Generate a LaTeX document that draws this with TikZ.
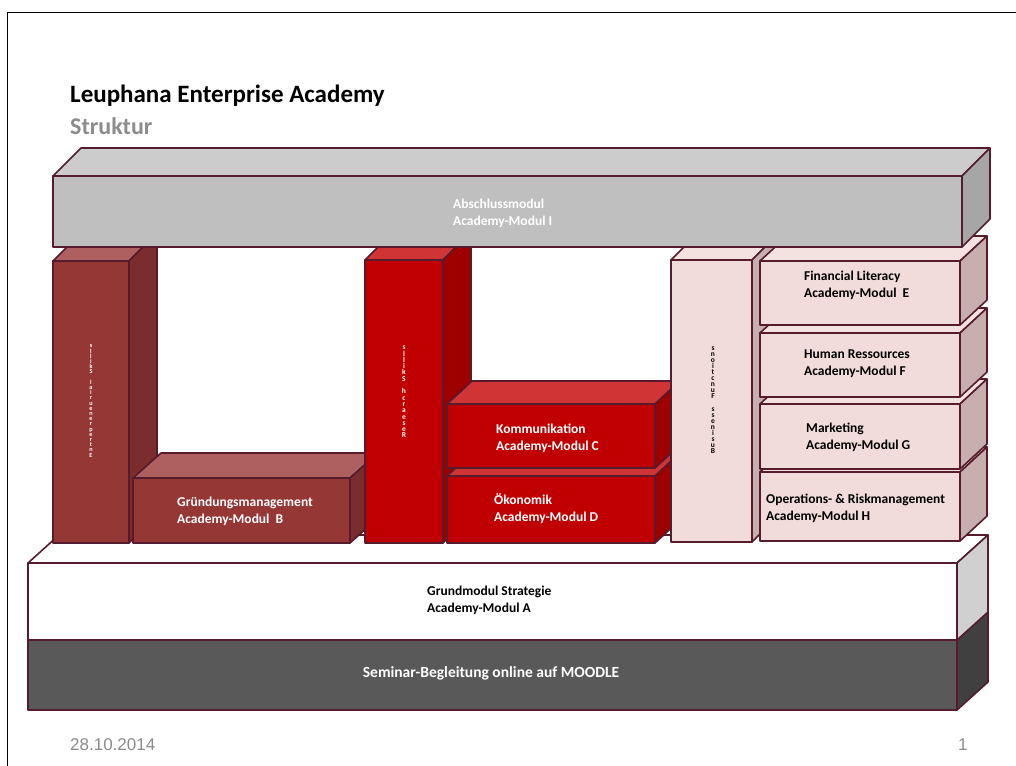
\documentclass[tikz,border=0pt]{standalone}
\usepackage{fontspec}
\setmainfont{Carlito}
\newfontfamily\arialfont{Liberation Sans}
\definecolor{edgec}{HTML}{561C2E}
\definecolor{gf}{HTML}{BFBFBF}
\definecolor{gt}{HTML}{CCCCCC}
\definecolor{gs}{HTML}{A6A6A6}
\definecolor{cAf}{HTML}{953735}
\definecolor{cAt}{HTML}{AE5F5F}
\definecolor{cAs}{HTML}{7B2C2C}
\definecolor{cBf}{HTML}{C00000}
\definecolor{cBt}{HTML}{D03434}
\definecolor{cBs}{HTML}{9E0000}
\definecolor{pf}{HTML}{F2DCDB}
\definecolor{pt}{HTML}{F4E2E1}
\definecolor{ps}{HTML}{C6AFAE}
\definecolor{ws}{HTML}{D0D0D0}
\definecolor{sf}{HTML}{595959}
\definecolor{ss}{HTML}{404040}
\definecolor{txtgray}{HTML}{8C8C8C}
\newcommand\cube[9]{%
  \filldraw[edge, fill=#8] (#1,#2) -- (#1+#5,#2-#6) -- (#3+#5,#2-#6) -- (#3,#2) -- cycle;
  \filldraw[edge, fill=#9] (#3,#2) -- (#3+#5,#2-#6) -- (#3+#5,#4-#6) -- (#3,#4) -- cycle;
  \filldraw[edge, fill=#7] (#1,#2) rectangle (#3,#4);
}
\newcommand\vstack[2]{\vbox{\baselineskip=#1pt\lineskiplimit=-20pt\lineskip=0pt\relax
  \halign{\hfil##\hfil\cr#2\crcr}}}
\begin{document}
\begin{tikzpicture}[x=1pt,y=-1pt,
  edge/.style={draw=edgec, line width=1.6pt, line join=round},
  lbl/.style={font=\fontsize{13.5}{17}\selectfont\bfseries, align=left, anchor=west, inner sep=0pt, text=white},
  dlbl/.style={lbl, text=black},
  stack/.style={font=\fontsize{7.5}{8}\selectfont\bfseries, inner sep=0pt, text=white}
]
\useasboundingbox (0,0) rectangle (1016,765);
\fill[white] (0,0) rectangle (1016,765);
\draw[black, line width=1pt] (7,770) -- (7,13) -- (1020,13);

\node[font=\fontsize{25}{30}\selectfont\bfseries, anchor=west, inner sep=0pt] (title) at (70,96) {Leuphana Enterprise Academy};
\node[font=\fontsize{24}{28}\selectfont\bfseries, text=txtgray, anchor=west, inner sep=0pt] (sub) at (70,126) {Struktur};

% base
\cube{28}{640}{957}{710}{31}{28}{sf}{sf}{ss}
\cube{28}{563}{957}{640}{31}{28}{white}{white}{ws}

% left column group
\cube{53}{261}{129}{543}{28}{28}{cAf}{cAt}{cAs}
\cube{133}{478}{350}{543}{28}{25}{cAf}{cAt}{cAs}
% middle group
\cube{365}{260}{443}{543}{28}{28}{cBf}{cBt}{cBs}
\cube{447}{476}{655}{543}{25}{23}{cBf}{cBt}{cBs}
\cube{447}{404}{655}{468}{25}{23}{cBf}{cBt}{cBs}
% right group
\cube{671}{260}{752}{542}{28}{28}{pf}{pt}{ps}
\cube{760}{472}{960}{541}{27}{25}{pf}{pt}{ps}
\cube{760}{404}{960}{469}{27}{25}{pf}{pt}{ps}
\cube{760}{333}{960}{397}{27}{25}{pf}{pt}{ps}
\cube{760}{261}{960}{325}{27}{25}{pf}{pt}{ps}
% top
\cube{53}{176}{962}{247}{28}{28}{gf}{gt}{gs}

% labels
\node[lbl] (tI) at (453,213) {Abschlussmodul\\Academy-Modul I};
\node[lbl] (tB) at (177,511) {Gründungsmanagement\\Academy-Modul\ \ B};
\node[lbl] (tC) at (496,438) {Kommunikation\\Academy-Modul C};
\node[lbl] (tD) at (494,509) {Ökonomik\\Academy-Modul D};
\node[dlbl] (tE) at (804,285) {Financial Literacy\\Academy-Modul\ \ E};
\node[dlbl] (tF) at (804,364) {Human Ressources\\Academy-Modul F};
\node[dlbl] (tG) at (806,437) {Marketing\\Academy-Modul G};
\node[dlbl] (tH) at (766,508) {Operations- \& Riskmanagement\\Academy-Modul H};
\node[dlbl] (tA) at (427,600) {Grundmodul Strategie\\Academy-Modul A};
\node[lbl, anchor=center, font=\fontsize{15.5}{18}\selectfont\bfseries] (tS) at (491,673) {Seminar-Begleitung online auf MOODLE};

% stacked vertical texts
\node[stack, font=\fontsize{6.2}{7}\selectfont\bfseries] (v1) at (91,401) {\vstack{5.2}{s\cr l\cr l\cr i\cr k\cr S\cr \cr l\cr a\cr i\cr r\cr u\cr e\cr n\cr e\cr r\cr p\cr e\cr r\cr t\cr n\cr E}};
\node[stack] (v2) at (404,392) {\vstack{6.3}{s\cr l\cr l\cr i\cr k\cr S\cr \cr h\cr c\cr r\cr a\cr e\cr s\cr e\cr R}};
\node[stack, text=black] (v3) at (713,400) {\vstack{6.1}{s\cr n\cr o\cr i\cr t\cr c\cr n\cr u\cr F\cr \cr s\cr s\cr e\cr n\cr i\cr s\cr u\cr B}};

% footer
\node[font=\arialfont\fontsize{17}{20}\selectfont, text=txtgray, anchor=west, inner sep=0pt] (date) at (70,745) {28.10.2014};
\node[font=\arialfont\fontsize{17}{20}\selectfont, text=txtgray, anchor=west, inner sep=0pt] (page) at (958,745) {1};
\end{tikzpicture}
\end{document}
